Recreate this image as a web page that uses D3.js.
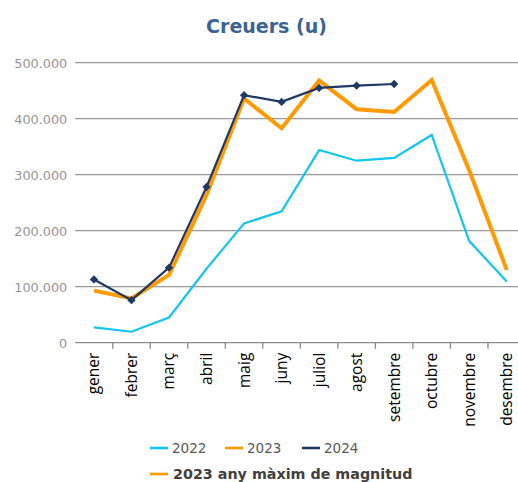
<!DOCTYPE html>
<html>
<head>
<meta charset="utf-8">
<script src="https://cdn.jsdelivr.net/npm/d3@7"></script>
<style>
html,body{margin:0;padding:0;background:#fff;}
svg{display:block;}
</style>
</head>
<body>
<svg id="chart" width="518" height="482"></svg>
<script>
const months = ["gener","febrer","març","abril","maig","juny","juliol","agost","setembre","octubre","novembre","desembre"];
const values2022 = [27500, 19600, 45000, 132000, 213000, 234500, 344000, 325000, 330000, 371000, 181500, 109500];
const values2023 = [93000, 79000, 121000, 264000, 436000, 383000, 468000, 417000, 412000, 469000, 308000, 130000];
const values2024 = [113000, 76000, 134000, 278000, 442000, 430000, 455000, 459000, 462000];
const yTicks = [0, 100000, 200000, 300000, 400000, 500000];
const yTickLabels = ["0", "100.000", "200.000", "300.000", "400.000", "500.000"];
const seriesNames = ["2022", "2023", "2024"];
const seriesColors = ["#12C5F2", "#FF9A00", "#1F3864"];
const chartTitle = "Creuers (u)";
const noteText = "2023 any màxim de magnitud";

const svg = d3.select("#chart");
const mLeft = 75.2, mRight = 525.5, mTop = 62.7, mBottom = 342.7;

const x = d3.scaleBand().domain(months).range([mLeft, mRight]);
const y = d3.scaleLinear().domain([0, 500000]).range([mBottom, mTop]);

// title
svg.append("text").attr("x", 266.5).attr("y", 33)
  .attr("text-anchor", "middle")
  .attr("font-family", "DejaVu Sans, Verdana, sans-serif")
  .attr("font-weight", "bold").attr("font-size", 19)
  .attr("fill", "#3B6394").text(chartTitle);

// gridlines
svg.append("g").selectAll("line").data(yTicks.filter(d => d > 0)).join("line")
  .attr("x1", mLeft).attr("x2", 518)
  .attr("y1", d => y(d)).attr("y2", d => y(d))
  .attr("stroke", "#999999").attr("stroke-width", 1.3);

// y axis labels
const yAxis = d3.axisLeft(y).tickValues(yTicks).tickSize(0).tickPadding(8)
  .tickFormat((d, i) => yTickLabels[i]);
const gy = svg.append("g").attr("transform", `translate(${mLeft},0)`).call(yAxis);
gy.select(".domain").remove();
gy.selectAll("text").attr("font-family", "DejaVu Sans, Verdana, sans-serif")
  .attr("font-size", 12.8).attr("fill", "#959595").attr("dy", "0.35em");

// x axis
const xAxis = d3.axisBottom(x).tickSize(0).tickPadding(0);
const gx = svg.append("g").attr("transform", `translate(0,${mBottom})`).call(xAxis);
gx.select(".domain").attr("stroke", "#8C8C8C").attr("stroke-width", 1.3)
  .attr("d", `M${mLeft},0H518`);
gx.append("g").selectAll("line").data(months.slice(1)).join("line")
  .attr("x1", d => x(d)).attr("x2", d => x(d))
  .attr("y1", 0).attr("y2", 6)
  .attr("stroke", "#8C8C8C").attr("stroke-width", 1.3);
gx.selectAll(".tick text")
  .attr("font-family", "Open Sans, sans-serif")
  .attr("font-size", 15.5).attr("fill", "#000")
  .attr("text-anchor", "end")
  .attr("transform", "rotate(-90)")
  .attr("x", -10).attr("y", 0).attr("dy", "0.35em");

// lines
const allSeries = [values2022, values2023, values2024];
const widths = [2.2, 4, 2.2];
const line = d3.line().x((d, i) => x(months[i]) + x.bandwidth() / 2).y(d => y(d));
allSeries.forEach((vals, si) => {
  svg.append("path").datum(vals)
    .attr("fill", "none").attr("stroke", seriesColors[si])
    .attr("stroke-width", widths[si]).attr("stroke-linejoin", "miter")
    .attr("d", line);
});
svg.append("g").selectAll("path").data(values2024).join("path")
  .attr("d", d3.symbol().type(d3.symbolDiamond2).size(44))
  .attr("transform", (d, i) => `translate(${x(months[i]) + x.bandwidth() / 2},${y(d)})`)
  .attr("fill", seriesColors[2]);

// legend
const legendX = [150, 225, 302];
const lg = svg.append("g");
seriesNames.forEach((name, i) => {
  lg.append("line").attr("x1", legendX[i]).attr("x2", legendX[i] + 18)
    .attr("y1", 448).attr("y2", 448)
    .attr("stroke", seriesColors[i]).attr("stroke-width", 2.6);
  lg.append("text").attr("x", legendX[i] + 22).attr("y", 448).attr("dy", "0.35em")
    .attr("font-family", "DejaVu Sans, Verdana, sans-serif").attr("font-size", 13.5)
    .attr("fill", "#595959").text(name);
});
lg.append("line").attr("x1", 150).attr("x2", 168).attr("y1", 474).attr("y2", 474)
  .attr("stroke", seriesColors[1]).attr("stroke-width", 2.6);
lg.append("text").attr("x", 173).attr("y", 474).attr("dy", "0.35em")
  .attr("font-family", "DejaVu Sans, Verdana, sans-serif").attr("font-size", 14.3)
  .attr("font-weight", "bold").attr("fill", "#404040").text(noteText);
</script>
</body>
</html>
